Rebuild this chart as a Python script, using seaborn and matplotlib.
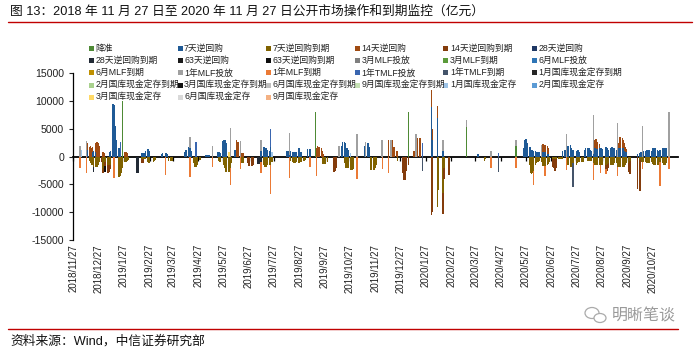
import numpy as np
import pandas as pd
import matplotlib
matplotlib.use("Agg")
import matplotlib.pyplot as plt
from matplotlib.patches import Rectangle, Ellipse
from matplotlib.lines import Line2D
import seaborn as sns

# ---------------- data (亿元), segments: (first business day, consecutive business-day values)
names = ["降准", "7天逆回购", "7天逆回购到期", "14天逆回购", "14天逆回购到期", "28天逆回购",
         "28天逆回购到期", "63天逆回购", "63天逆回购到期", "3月MLF投放", "3月MLF到期", "6月MLF投放",
         "6月MLF到期", "1年MLF投放", "1年MLF到期", "1年TMLF投放", "1年TMLF到期", "1月国库现金定存到期",
         "2月国库现金定存到期", "3月国库现金定存到期", "6月国库现金定存到期", "9月国库现金定存到期",
         "1月国库现金定存", "2月国库现金定存", "3月国库现金定存", "6月国库现金定存", "9月国库现金定存"]

rrr_seg = [("2019-01-25", [10000]), ("2019-09-16", [8000]), ("2020-01-06", [8000]),
           ("2020-03-16", [5400]), ("2020-05-15", [1900])]

rr7_seg = [
    ("2018-12-14", [1200]),
    ("2018-12-20", [800, 1000, 900]),
    ("2019-01-10", [800, 1000, 9500, 9300, 6000, 5600, 3000, 1500, 800]),
    ("2019-02-18", [600, 600, 600, 600, 1000, 1300, 1300, 1000]),
    ("2019-03-14", [500, 700, 700, 700, 500]),
    ("2019-04-11", [800, 1200, 1700, 1700, 1600, 1000]),
    ("2019-05-06", [300, 300, 300, 300, 300]),
    ("2019-05-20", [900, 900, 900, 700, 600, 2800, 3000, 3000, 3000, 2500]),
    ("2019-06-10", [1200, 1200, 800]),
    ("2019-07-12", [1000, 1700, 1700, 1500, 1500, 1200, 1000, 1700]),
    ("2019-08-12", [1000, 1000, 1000, 300, 1000, 900, 900, 900, 900, 900, 1500, 1500, 900, 900, 800]),
    ("2019-09-06", [1300, 1300, 1300]),
    ("2019-10-17", [2000, 2700, 2700, 2500, 1500, 1500, 1200]),
    ("2019-11-14", [2000, 0, 2400, 2400, 1800]),
    ("2020-02-03", [9000, 3000]),
    ("2020-02-10", [7000]),
    ("2020-02-17", [1000]),
    ("2020-03-30", [500]),
    ("2020-05-25", [1500, 3000, 3100, 3000, 2500, 1700, 1700, 1200, 1200, 1000, 1000, 900, 900, 900, 800,
                    0, 800, 800, 800, 800, 800, 500]),
    ("2020-07-10", [1000, 1200, 1200, 0, 1500, 2000, 2100, 1500, 1200, 1200, 1200, 1000, 1000, 1200, 1200, 900]),
    ("2020-08-06", [1200, 1500, 1500, 1500, 1500, 1200, 1000, 500, 1500, 1500, 1500, 1400, 1500, 1500, 1500,
                    1300, 1200, 1800, 1800, 1600, 1500, 1200, 1500, 1800, 1800, 1500, 1500, 1200]),
    ("2020-09-16", [1500, 1500, 1500, 1500, 1500, 1200, 1000, 800]),
    ("2020-10-09", [500, 600, 800, 900, 0, 1000, 1000, 1200, 1200, 1200, 1200, 1000, 1500, 1500, 1500, 1500,
                    1200, 1000, 1000, 1200, 1200, 1500, 1500, 1500, 1500, 1500]),
]

rr7m_seg = [
    ("2018-12-17", [-800, -1200, -1500, -1500, -1800, -1800, -1800, -1800, -1500, -1000]),
    ("2019-01-02", [-2400, -2000, -1000, -1500, -1500, -1500, -1500, -1500]),
    ("2019-01-21", [-3700, -3700, -3500, -3000, -2000, -1000, -1000, -1000, -800, -600]),
    ("2019-02-18", [-500, -500, -500, -500, -500, -1000, -1200, -1100]),
    ("2019-03-04", [-900, -800, -600]),
    ("2019-03-22", [-700, -700, -700, -500]),
    ("2019-04-22", [-1200, -1800, -1800, -1700, -1500, -600]),
    ("2019-05-22", [-800, -900, -900]),
    ("2019-05-28", [-1500, -2000, -2700, -2700, -2700, -2500, -2000, -1200]),
    ("2019-06-18", [-1000, -1200, -1200, -800]),
    ("2019-07-15", [-1500, -1800, -1800, -1800, -1500, -1500, -1500, -900, -900, -800]),
    ("2019-08-16", [-800, -1000, -1200, -1200, -1200, -1000, -1200, -1200, -1000, -900, -800, -700, -600]),
    ("2019-09-24", [-1000, -1300, -1300, -1300, -1000]),
    ("2019-10-21", [-1200, -2000, -2100, -2100, -2000, -2400, -2400, -2400, -2300, -1500]),
    ("2019-11-21", [-2400, -2400, -2400, -2400, -2000, -1500]),
    ("2019-12-24", [-800]),
    ("2020-02-10", [-9000, -6000]),
    ("2020-02-17", [-6500, -2000]),
    ("2020-02-25", [-500]),
    ("2020-04-07", [-700, -500]),
    ("2020-06-01", [-1500, -3000, -3100, -3000, -2500, -1500, -1200, -1000, -900, -800, -900, -1200, -1700,
                    -1700, -1700, -1500, -1400, -1000]),
    ("2020-06-29", [-500, -500, -500, -500, -500, -500, -500, -500, -500, -500]),
    ("2020-07-16", [-1200, -1500, -1800, -1800, -1500, -1200, -1200, -1500, -1200, -1000, -1000, -900,
                    -1000, -900, -700]),
    ("2020-08-10", [-800, -800, -800, -800, -800, -1200, -1500, -1500, -1500, -1500, -1500, -1500, -1400,
                    -1500, -1500, -1500, -1500, -1500, -1400, -1200, -1500, -1500, -1500, -1500, -1200,
                    -1200, -1800, -1800, -1800, -1800, -1800, -1800, -1800, -1500]),
    ("2020-09-25", [-1200, -1200, -1000, -800]),
    ("2020-10-12", [-600, -900, -900, -1000, -1000, -1000, -1200, -1200, -1200, -1200, -1000, -1200, -1400,
                    -1500, -1500, -1500, -1500, -1200, -1000, -1200, -1200, -1500, -1500, -1500, -1200]),
]

rr14_seg = [
    ("2018-12-14", [1200, 1800, 1900, 1500, 1000]),
    ("2018-12-24", [1500, 2600, 2700, 2500, 2000]),
    ("2019-01-02", [800, 700]),
    ("2019-01-28", [800, 900, 900, 700]),
    ("2019-06-12", [2200, 2700, 2700]),
    ("2019-06-19", [600, 600, 600]),
    ("2019-09-17", [1500, 1900, 1800, 1800, 1500, 1000, 500]),
    ("2019-12-13", [3000]),
    ("2019-12-17", [3000, 1800, 1800, 1800, 1000]),
    ("2020-01-13", [1000, 1000]),
    ("2020-01-16", [3000, 3300, 3300, 2000]),
    ("2020-02-03", [3000, 2000]),
    ("2020-02-10", [2200]),
    ("2020-06-16", [1300, 1500, 1300, 1300, 1200, 1000]),
    ("2020-08-18", [1500, 1700, 1600, 1200, 800]),
    ("2020-09-16", [1000, 1500, 2000, 1800, 1500, 1200, 800, 500]),
]

rr14m_seg = [
    ("2018-12-31", [-1000]),
    ("2019-01-02", [-500, -500, -700, -1500, -1500, -1200, -800]),
    ("2019-02-18", [-600, -600, -600]),
    ("2019-06-26", [-1200, -1700, -1700, -1700, -1500, -800]),
    ("2019-10-08", [-2700, -2700, -2500, -2000]),
    ("2019-12-30", [-3000, -4200]),
    ("2020-01-02", [-4200, -2500, -1500]),
    ("2020-02-03", [-10500, -10000]),
    ("2020-02-17", [-3800, -2000]),
    ("2020-02-24", [-3300]),
    ("2020-06-29", [-1300, -1500, -2100, -2000, -1500]),
    ("2020-09-01", [-800, -1000, -1200, -800]),
    ("2020-09-28", [-1500, -2000, -2400]),
    ("2020-10-09", [-5900, -5500]),
]

rr28m_seg = [("2018-12-21", [-1000]), ("2019-02-11", [-2000, -2900, -2900, -2500]),
             ("2019-07-08", [-1300, -1300, -1300, -1300, -1000])]
rr63m_seg = [("2019-01-04", [-1000])]

mlf1_seg = [("2018-12-05", [1900]), ("2018-12-13", [2900]), ("2019-04-17", [2000]), ("2019-05-14", [2000]),
            ("2019-06-05", [5100]), ("2019-06-17", [2900]), ("2019-07-12", [2000]), ("2019-08-15", [4000]),
            ("2019-10-14", [2000]), ("2019-11-05", [4100]), ("2019-11-15", [2600]), ("2019-12-05", [3000]),
            ("2019-12-16", [3000]), ("2020-01-15", [4000]), ("2020-02-17", [2000]), ("2020-03-16", [1200]),
            ("2020-04-15", [1000]), ("2020-05-15", [1100]), ("2020-06-15", [2100]), ("2020-07-15", [4000]),
            ("2020-08-17", [7000]), ("2020-09-15", [6000]), ("2020-10-15", [5500]), ("2020-11-16", [8100])]

mlf1m_seg = [("2018-12-05", [-2000]), ("2018-12-13", [-3000]), ("2019-01-15", [-3900]), ("2019-03-18", [-3300]),
             ("2019-04-17", [-3700]), ("2019-05-14", [-1800]), ("2019-06-05", [-3100]), ("2019-06-17", [-2300]),
             ("2019-07-12", [-1900]), ("2019-07-23", [-5200]), ("2019-08-15", [-3900]), ("2019-09-09", [-1800]),
             ("2019-09-17", [-3500]), ("2019-11-05", [-4100]), ("2019-12-06", [-2200]), ("2019-12-13", [-3000]),
             ("2020-04-15", [-2100]), ("2020-05-15", [-2100]), ("2020-06-05", [-2600]), ("2020-06-19", [-1800]),
             ("2020-07-15", [-2400]), ("2020-08-17", [-3000]), ("2020-08-25", [-1500]), ("2020-09-01", [-800]),
             ("2020-09-15", [-1700]), ("2020-10-15", [-1300]), ("2020-11-05", [-4300]), ("2020-11-16", [-2300])]

tmlf_seg = [("2019-01-23", [2600]), ("2019-04-24", [2700]), ("2019-07-23", [3300]),
            ("2020-01-23", [2400]), ("2020-04-24", [600])]
tmlfm_seg = [("2020-01-23", [-2600]), ("2020-04-24", [-2700]), ("2020-07-23", [-4300])]

cash1_seg = [("2018-12-07", [1200]), ("2019-07-25", [900]), ("2019-10-28", [600])]
cash3_seg = [("2019-06-03", [900])]

colors = ["#4E8A35", "#1F5A96", "#806200", "#A04B12", "#843C0C", "#1F3864",
          "#222A35", "#1A1A1A", "#0D0D0D", "#7F7F7F", "#5B9B3A", "#2E75B6",
          "#BF9000", "#A0A0A0", "#EB7A35", "#3A66B0", "#44546A", "#262626",
          "#A9D18E", "#111111", "#BFBFBF", "#C5E0B4", "#9DC3E6", "#5B9BD5",
          "#FFD966", "#D9D9D9", "#F4B183"]

segments = {"降准": rrr_seg, "7天逆回购": rr7_seg, "7天逆回购到期": rr7m_seg, "14天逆回购": rr14_seg,
            "14天逆回购到期": rr14m_seg, "28天逆回购到期": rr28m_seg, "63天逆回购到期": rr63m_seg,
            "1年MLF投放": mlf1_seg, "1年MLF到期": mlf1m_seg, "1年TMLF投放": tmlf_seg,
            "1年TMLF到期": tmlfm_seg, "1月国库现金定存": cash1_seg, "3月国库现金定存": cash3_seg}

tick_dates = pd.date_range("2018-11-27", "2020-10-27", freq=pd.DateOffset(months=1))
tick_labels = [f"{d.year}/{d.month}/{d.day}" for d in tick_dates]

# ---------------- build table
rows = []
for name in names:
    for start, vals in segments.get(name, []):
        for d, v in zip(pd.bdate_range(start, periods=len(vals)), vals):
            rows.append((d, name, v))
df = pd.DataFrame(rows, columns=["date", "series", "value"])
wide = (df.pivot_table(index="date", columns="series", values="value", aggfunc="sum")
          .reindex(columns=names).fillna(0.0))

# ---------------- style
sns.set_theme(style="white")
plt.rcParams["font.family"] = ["Liberation Sans", "Noto Sans CJK SC", "DejaVu Sans"]
plt.rcParams["axes.unicode_minus"] = False

W, H = 699, 354
fig = plt.figure(figsize=(W / 100, H / 100), dpi=100)
fig.patch.set_facecolor("white")
ax = fig.add_axes([73 / W, 1 - 240 / H, 605 / W, 166.7 / H])
ax.set_facecolor("white")

xs = wide.index
pos_base = np.zeros(len(wide))
neg_base = np.zeros(len(wide))
for name, col in zip(names, colors):
    v = wide[name].values
    p = np.where(v > 0, v, 0.0)
    n = np.where(v < 0, v, 0.0)
    m = p > 0
    if m.any():
        ax.bar(xs[m], p[m], bottom=pos_base[m], width=1.7, color=col, linewidth=0, zorder=2)
    m = n < 0
    if m.any():
        ax.bar(xs[m], n[m], bottom=neg_base[m], width=1.7, color=col, linewidth=0, zorder=2)
    pos_base += p
    neg_base += n

ax.set_ylim(-15000, 15000)
ax.set_yticks(np.arange(-15000, 15001, 5000))
ax.set_xlim(pd.Timestamp("2018-11-26 12:00"), pd.Timestamp("2020-11-27"))
ax.set_xticks(tick_dates)
ax.set_xticklabels(tick_labels, rotation=90, fontsize=7, color="#222222")
ax.tick_params(axis="x", length=0, pad=3)
ax.tick_params(axis="y", direction="out", length=3, width=0.8, labelsize=7.6, colors="#222222", left=True)
for s in ["top", "right", "bottom"]:
    ax.spines[s].set_visible(False)
ax.spines["left"].set_color("black")
ax.spines["left"].set_linewidth(0.9)
ax.grid(False)

# zero axis with month ticks
sec = ax.secondary_xaxis(0.5)
sec.set_xticks(tick_dates)
sec.tick_params(axis="x", direction="in", length=3, width=0.9, labeltop=False, labelbottom=False,
                color="black")
for s in sec.spines.values():
    s.set_linewidth(1.3)
    s.set_color("black")

# ---------------- legend (Excel-style grid)
for i, (name, col) in enumerate(zip(names, colors)):
    r, c = divmod(i, 6)
    x0 = 89 + 88.6 * c
    y0 = 48.5 + 12.2 * r
    fig.add_artist(Rectangle((x0 / W, 1 - (y0 + 2.5) / H), 5 / W, 5 / H, transform=fig.transFigure,
                             facecolor=col, edgecolor="none"))
    fig.text((x0 + 6.5) / W, 1 - y0 / H, name, fontsize=6.3, va="center", ha="left", color="#222222")

# ---------------- title, source, rules
fig.text(10 / W, 1 - 12 / H, "图 13：2018 年 11 月 27 日至 2020 年 11 月 27 日公开市场操作和到期监控（亿元）",
         fontsize=9.2, va="center", ha="left", color="#111111")
fig.add_artist(Line2D([8 / W, 692 / W], [1 - 22 / H, 1 - 22 / H], color="#C00000", linewidth=1.0))
fig.add_artist(Line2D([8 / W, 678 / W], [1 - 329 / H, 1 - 329 / H], color="#C00000", linewidth=1.0))
fig.text(10 / W, 1 - 341 / H, "资料来源：Wind，中信证券研究部", fontsize=9.2, va="center", ha="left",
         color="#111111")
fig.text(676 / W, 1 - 316 / H, "明晰笔谈", fontsize=11.5, va="center", ha="right", color="#9A9A9A")
# small chat-bubble logo next to the watermark
fig.add_artist(Ellipse((592 / W, 1 - 313 / H), 14 / W, 11 / H, transform=fig.transFigure,
                       facecolor="none", edgecolor="#AAAAAA", linewidth=0.9))
fig.add_artist(Ellipse((600 / W, 1 - 318 / H), 12 / W, 9 / H, transform=fig.transFigure,
                       facecolor="white", edgecolor="#AAAAAA", linewidth=0.9))

fig.savefig("out.png", dpi=100)
